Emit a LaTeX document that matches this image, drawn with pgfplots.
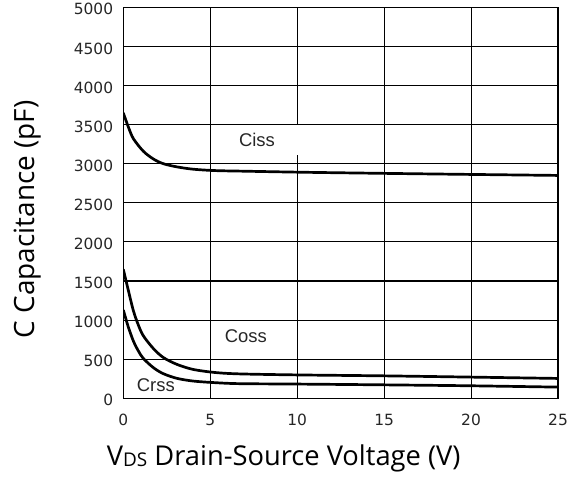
\documentclass[border=0pt]{standalone}
\usepackage{pgfplots}
\pgfplotsset{compat=1.18}
\usepackage{fontspec}
\setmainfont{Open Sans}
\newfontfamily\tickfont{DejaVu Sans}
\newfontfamily\lblfont{Liberation Sans}
\newfontfamily\axfont{Open Sans}

\begin{document}
\begin{tikzpicture}
\useasboundingbox (-123.3bp,-78.7bp) rectangle (451.7bp,398.3bp);
\begin{axis}[at={(0,0)}, anchor=south west, scale only axis,
  width=434.7bp, height=391bp,
  xmin=0, xmax=25, ymin=0, ymax=5000,
  xtick={0,5,...,25}, ytick={0,500,...,5000},
  grid=major, major grid style={black, line width=1.1bp},
  axis line style={black, line width=1.5bp},
  tick style={draw=none},
  ticklabel style={font=\tickfont\fontsize{15.5}{17}\selectfont, text=black!85},
  xticklabel style={anchor=north, inner sep=0pt, yshift=-16bp},
  yticklabel style={anchor=east, inner sep=0pt, xshift=-10bp, yshift=-2bp},
  /pgf/number format/assume math mode=true,
  /pgf/number format/1000 sep={},
  scaled y ticks=false,
]
\fill[white] (axis cs:9.6,3115) rectangle (axis cs:10.4,3490);
% Ciss
\addplot[black, line width=2.7bp, smooth, tension=0.5] coordinates {
(0,3650) (0.29,3470) (0.58,3320) (1.15,3160) (1.73,3060) (2.3,3000) (3.07,2960)
(4,2930) (5.27,2912) (7,2904) (10.5,2890) (15.5,2875) (20.3,2862) (25,2850)};
% Coss
\addplot[black, line width=2.7bp, smooth, tension=0.5] coordinates {
(0,1650) (0.15,1510) (0.29,1380) (0.58,1120) (0.86,940) (1.15,800) (1.73,636) (2.3,522)
(3.07,435) (4,370) (5.27,330) (6.7,312) (10,299) (15,287) (20,271) (25,254)};
% Crss
\addplot[black, line width=2.7bp, smooth, tension=0.5] coordinates {
(0,1130) (0.15,1015) (0.29,910) (0.58,732) (0.86,608) (1.15,510) (1.73,392) (2.3,315)
(3.07,256) (4,221) (5.27,200) (6.7,187) (10,182) (15,172) (20,160) (25,143)};
\node[font=\lblfont\fontsize{18.5}{19}\selectfont, text=black!85] at (axis cs:7.69,3300) {Ciss};
\node[font=\lblfont\fontsize{18.5}{19}\selectfont, text=black!85] at (axis cs:7.05,798) {Coss};
\node[font=\lblfont\fontsize{18.5}{19}\selectfont, text=black!85] at (axis cs:1.87,164) {Crss};
\end{axis}
\node[font=\axfont\fontsize{27.4}{29}\selectfont, anchor=base west, inner sep=0pt]
  at (-16.6bp,-67.4bp) {V\raisebox{-1bp}{\fontsize{19}{19}\selectfont DS} Drain-Source Voltage (V)};
\node[font=\axfont\fontsize{28}{30}\selectfont, rotate=90, anchor=base west, inner sep=0pt]
  at (-88.3bp,60bp) {C Capacitance (pF)};
\end{tikzpicture}
\end{document}
